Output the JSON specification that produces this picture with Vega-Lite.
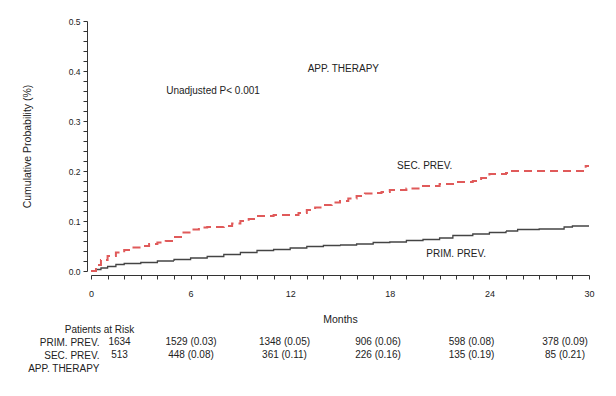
{
  "$schema": "https://vega.github.io/schema/vega-lite/v6.json",
  "padding": {"left": 22, "top": 17, "right": 5, "bottom": 5},
  "background": "white",
  "bounds": "flush",
  "spacing": 51.5,
  "config": {
    "view": {"stroke": null},
    "font": "Liberation Sans",
    "text": {"font": "Liberation Sans", "color": "#222"}
  },
  "datasets": {
    "curves": [
      {"group": "PRIM. PREV.", "month": 0, "prob": 0},
      {"group": "PRIM. PREV.", "month": 0.3, "prob": 0.003},
      {"group": "PRIM. PREV.", "month": 0.6, "prob": 0.006},
      {"group": "PRIM. PREV.", "month": 1, "prob": 0.009},
      {"group": "PRIM. PREV.", "month": 1.5, "prob": 0.013},
      {"group": "PRIM. PREV.", "month": 2, "prob": 0.015},
      {"group": "PRIM. PREV.", "month": 3, "prob": 0.017},
      {"group": "PRIM. PREV.", "month": 4, "prob": 0.02},
      {"group": "PRIM. PREV.", "month": 5, "prob": 0.023},
      {"group": "PRIM. PREV.", "month": 6, "prob": 0.026},
      {"group": "PRIM. PREV.", "month": 7, "prob": 0.029},
      {"group": "PRIM. PREV.", "month": 8, "prob": 0.033},
      {"group": "PRIM. PREV.", "month": 9, "prob": 0.037},
      {"group": "PRIM. PREV.", "month": 10, "prob": 0.041},
      {"group": "PRIM. PREV.", "month": 11, "prob": 0.043},
      {"group": "PRIM. PREV.", "month": 12, "prob": 0.046},
      {"group": "PRIM. PREV.", "month": 13, "prob": 0.049},
      {"group": "PRIM. PREV.", "month": 14, "prob": 0.051},
      {"group": "PRIM. PREV.", "month": 15, "prob": 0.052},
      {"group": "PRIM. PREV.", "month": 16, "prob": 0.054},
      {"group": "PRIM. PREV.", "month": 17, "prob": 0.057},
      {"group": "PRIM. PREV.", "month": 18, "prob": 0.058},
      {"group": "PRIM. PREV.", "month": 19, "prob": 0.061},
      {"group": "PRIM. PREV.", "month": 20, "prob": 0.063},
      {"group": "PRIM. PREV.", "month": 21, "prob": 0.066},
      {"group": "PRIM. PREV.", "month": 21.8, "prob": 0.071},
      {"group": "PRIM. PREV.", "month": 23, "prob": 0.074},
      {"group": "PRIM. PREV.", "month": 24, "prob": 0.077},
      {"group": "PRIM. PREV.", "month": 25, "prob": 0.08},
      {"group": "PRIM. PREV.", "month": 25.7, "prob": 0.083},
      {"group": "PRIM. PREV.", "month": 27, "prob": 0.084},
      {"group": "PRIM. PREV.", "month": 28.5, "prob": 0.088},
      {"group": "PRIM. PREV.", "month": 29, "prob": 0.09},
      {"group": "PRIM. PREV.", "month": 30, "prob": 0.09},
      {"group": "SEC. PREV.", "month": 0, "prob": 0},
      {"group": "SEC. PREV.", "month": 0.3, "prob": 0.012},
      {"group": "SEC. PREV.", "month": 0.6, "prob": 0.022},
      {"group": "SEC. PREV.", "month": 1, "prob": 0.03},
      {"group": "SEC. PREV.", "month": 1.5, "prob": 0.037},
      {"group": "SEC. PREV.", "month": 2, "prob": 0.042},
      {"group": "SEC. PREV.", "month": 2.5, "prob": 0.047},
      {"group": "SEC. PREV.", "month": 3, "prob": 0.05},
      {"group": "SEC. PREV.", "month": 3.5, "prob": 0.054},
      {"group": "SEC. PREV.", "month": 4, "prob": 0.057},
      {"group": "SEC. PREV.", "month": 4.5, "prob": 0.06},
      {"group": "SEC. PREV.", "month": 5, "prob": 0.068},
      {"group": "SEC. PREV.", "month": 5.5, "prob": 0.077},
      {"group": "SEC. PREV.", "month": 6, "prob": 0.083},
      {"group": "SEC. PREV.", "month": 6.5, "prob": 0.087},
      {"group": "SEC. PREV.", "month": 7, "prob": 0.088},
      {"group": "SEC. PREV.", "month": 8, "prob": 0.09},
      {"group": "SEC. PREV.", "month": 8.5, "prob": 0.095},
      {"group": "SEC. PREV.", "month": 9, "prob": 0.1},
      {"group": "SEC. PREV.", "month": 9.5, "prob": 0.104},
      {"group": "SEC. PREV.", "month": 10, "prob": 0.11},
      {"group": "SEC. PREV.", "month": 11, "prob": 0.112},
      {"group": "SEC. PREV.", "month": 12.5, "prob": 0.116},
      {"group": "SEC. PREV.", "month": 13, "prob": 0.122},
      {"group": "SEC. PREV.", "month": 13.5, "prob": 0.127},
      {"group": "SEC. PREV.", "month": 14, "prob": 0.132},
      {"group": "SEC. PREV.", "month": 14.5, "prob": 0.137},
      {"group": "SEC. PREV.", "month": 15, "prob": 0.14},
      {"group": "SEC. PREV.", "month": 15.5, "prob": 0.145},
      {"group": "SEC. PREV.", "month": 16, "prob": 0.15},
      {"group": "SEC. PREV.", "month": 16.5, "prob": 0.155},
      {"group": "SEC. PREV.", "month": 17, "prob": 0.156},
      {"group": "SEC. PREV.", "month": 17.5, "prob": 0.158},
      {"group": "SEC. PREV.", "month": 18, "prob": 0.162},
      {"group": "SEC. PREV.", "month": 19, "prob": 0.165},
      {"group": "SEC. PREV.", "month": 20, "prob": 0.17},
      {"group": "SEC. PREV.", "month": 21, "prob": 0.174},
      {"group": "SEC. PREV.", "month": 22, "prob": 0.178},
      {"group": "SEC. PREV.", "month": 23, "prob": 0.18},
      {"group": "SEC. PREV.", "month": 23.5, "prob": 0.186},
      {"group": "SEC. PREV.", "month": 24, "prob": 0.194},
      {"group": "SEC. PREV.", "month": 25, "prob": 0.196},
      {"group": "SEC. PREV.", "month": 25.3, "prob": 0.2},
      {"group": "SEC. PREV.", "month": 29.6, "prob": 0.2},
      {"group": "SEC. PREV.", "month": 29.8, "prob": 0.21},
      {"group": "SEC. PREV.", "month": 30, "prob": 0.21}
    ],
    "notes": [
      {"label": "APP. THERAPY", "month": 15.2, "prob": 0.404},
      {"label": "Unadjusted  P< 0.001", "month": 7.35, "prob": 0.36},
      {"label": "SEC. PREV.", "month": 20.1, "prob": 0.21},
      {"label": "PRIM. PREV.", "month": 22.0, "prob": 0.034}
    ],
    "risk": [
      {"row": "PRIM. PREV.", "month": 0, "value": "1634"},
      {"row": "PRIM. PREV.", "month": 6, "value": "1529 (0.03)"},
      {"row": "PRIM. PREV.", "month": 12, "value": "1348 (0.05)"},
      {"row": "PRIM. PREV.", "month": 18, "value": "906 (0.06)"},
      {"row": "PRIM. PREV.", "month": 24, "value": "598 (0.08)"},
      {"row": "PRIM. PREV.", "month": 30, "value": "378 (0.09)"},
      {"row": "SEC. PREV.", "month": 0, "value": "513"},
      {"row": "SEC. PREV.", "month": 6, "value": "448 (0.08)"},
      {"row": "SEC. PREV.", "month": 12, "value": "361 (0.11)"},
      {"row": "SEC. PREV.", "month": 18, "value": "226 (0.16)"},
      {"row": "SEC. PREV.", "month": 24, "value": "135 (0.19)"},
      {"row": "SEC. PREV.", "month": 30, "value": "85 (0.21)"}
    ]
  },
  "vconcat": [
    {
      "width": 498,
      "height": 250,
      "encoding": {
        "x": {"field": "month", "type": "quantitative",
          "scale": {"domain": [0, 30], "nice": false},
          "axis": {"title": "Months", "titleFont": "Liberation Sans", "titleFontWeight": "normal", "titleColor": "#222", "titleFontSize": 10.5, "titlePadding": 16, "offset": 4,
            "grid": false, "domain": true, "domainColor": "#333", "domainWidth": 1, "ticks": true, "tickColor": "#333", "tickWidth": 1, "tickSize": 4,
            "labelOverlap": false, "labelBound": false, "labelFlush": false,
            "values": [0,1,2,3,4,5,6,7,8,9,10,11,12,13,14,15,16,17,18,19,20,21,22,23,24,25,26,27,28,29,30],
            "labelExpr": "datum.value % 6 === 0 ? datum.label : ''",
            "labelFont": "Liberation Sans", "labelColor": "#222", "labelFontSize": 9, "labelPadding": 10, "zindex": 1}},
        "y": {"field": "prob", "type": "quantitative",
          "scale": {"domain": [0, 0.5], "nice": false},
          "axis": {"title": "Cumulative Probability (%)", "titleFont": "Liberation Sans", "titleFontWeight": "normal", "titleColor": "#222", "titleFontSize": 10.5, "titlePadding": 36, "offset": 4,
            "grid": false, "domain": true, "domainColor": "#333", "domainWidth": 1, "ticks": true, "tickColor": "#333", "tickWidth": 1, "tickSize": 4,
            "labelOverlap": false, "labelBound": false, "labelFlush": false,
            "values": [0,0.02,0.04,0.06,0.08,0.1,0.12,0.14,0.16,0.18,0.2,0.22,0.24,0.26,0.28,0.3,0.32,0.34,0.36,0.38,0.4,0.42,0.44,0.46,0.48,0.5],
            "labelExpr": "abs(datum.value * 10 - round(datum.value * 10)) < 0.000001 ? format(datum.value, '.1f') : ''",
            "labelFont": "Liberation Sans", "labelColor": "#222", "labelFontSize": 8.5, "labelPadding": 3, "zindex": 1}}
      },
      "layer": [
        {
          "data": {"name": "curves"},
          "mark": {"type": "line", "interpolate": "step-after"},
          "encoding": {
            "color": {"field": "group", "type": "nominal", "legend": null,
              "scale": {"domain": ["PRIM. PREV.", "SEC. PREV."], "range": ["#444444", "#e05a5a"]}},
            "strokeDash": {"field": "group", "type": "nominal", "legend": null,
              "scale": {"domain": ["PRIM. PREV.", "SEC. PREV."], "range": [[1, 0], [8, 5]]}},
            "strokeWidth": {"field": "group", "type": "nominal", "legend": null,
              "scale": {"domain": ["PRIM. PREV.", "SEC. PREV."], "range": [1.3, 2]}}
          }
        },
        {
          "data": {"name": "notes"},
          "mark": {"type": "text", "fontSize": 10, "align": "center", "baseline": "middle"},
          "encoding": {
            "text": {"field": "label"}
          }
        }
      ]
    },
    {
      "width": 498,
      "height": 52,
      "data": {"name": "risk"},
      "encoding": {
        "x": {"field": "month", "type": "quantitative", "axis": null,
          "scale": {"domain": [6, 30], "range": [100, 474]}},
        "y": {"field": "row", "type": "ordinal",
          "scale": {"type": "point", "domain": ["Patients at Risk", "PRIM. PREV.", "SEC. PREV.", "APP. THERAPY"], "padding": 0.5},
          "axis": {"title": null, "domain": false, "ticks": false, "tickSize": 0, "labelPadding": -8,
            "labelFont": "Liberation Sans", "labelFontSize": 10, "labelColor": "#222",
            "labelAlign": {"condition": {"test": "datum.value === 'Patients at Risk'", "value": "center"}, "value": "right"}}},
        "text": {"field": "value"}
      },
      "layer": [
        {"transform": [{"filter": "datum.month > 0"}], "mark": {"type": "text", "fontSize": 10, "align": "center", "baseline": "middle"}},
        {"transform": [{"filter": "datum.month === 0"}], "mark": {"type": "text", "fontSize": 10, "align": "center", "baseline": "middle", "dx": 22}}
      ]
    }
  ]
}
